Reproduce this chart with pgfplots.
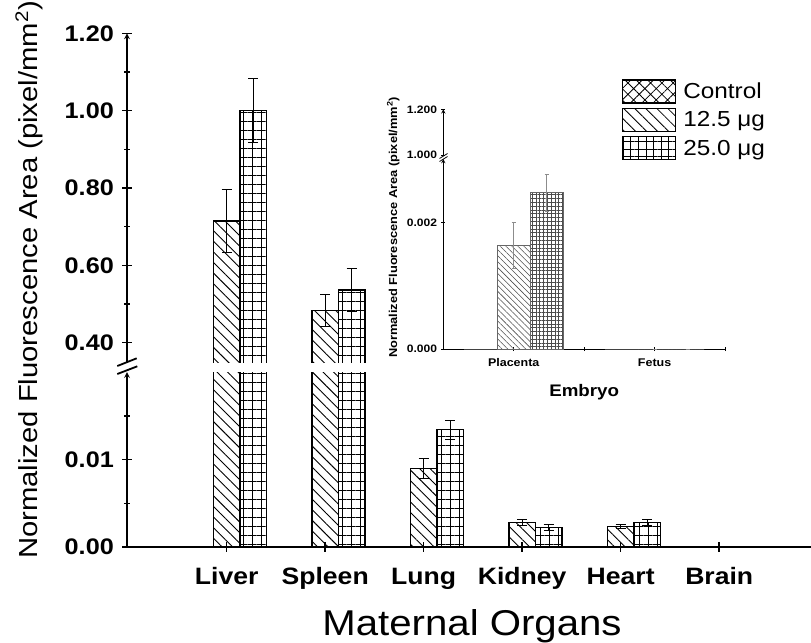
\documentclass[border=0pt]{standalone}
\usepackage{fontspec}
\setmainfont{Liberation Sans}
\newfontfamily\wide[FakeStretch=1.12]{Liberation Sans}
\usepackage{pgfplots}
\pgfplotsset{compat=1.18}
\usepackage{pgfplotstable}
\usetikzlibrary{patterns.meta}

% x, 12.5 ug (value, error), 25.0 ug (value, error), control
\pgfplotstableread{
x v1 e1 v2 e2 c
0 0.714 0.081 1.000 0.083 0
1 0.483 0.041 0.536 0.055 0
2 0.00897 0.0011 0.01342 0.0011 0
3 0.00281 0.0003 0.00225 0.00037 0
4 0.00236 0.0002 0.00281 0.00035 0
5 0 0 0 0 0
}\maintab
\pgfplotstableread{
x v1 e1 v2 e2 c
2 0.00897 0.0011 0.01342 0.0011 0
3 0.00281 0.0003 0.00225 0.00037 0
4 0.00236 0.0002 0.00281 0.00035 0
5 0 0 0 0 0
}\lowtab
\pgfplotstableread{
x v1 e1 v2 e2 c
0 0.00164 0.00036 0.00247 0.00029 0
1 0 0 0 0 0
}\insettab

\pgfplotsset{
  mainax/.style={scale only axis, width=684bp, xmin=-1.012, xmax=5.932,
    scaled y ticks=false, scaled x ticks=false,
    axis line style={-, line width=1.6bp},
    every outer x axis line/.append style={-}, every outer y axis line/.append style={-},
    tick style={line width=1.5bp, black},
    tick align=inside, major tick length=10bp, minor tick length=6bp,
    yticklabel style={font=\wide\bfseries\fontsize{22.6}{22.6}\selectfont, inner sep=0pt, xshift=-8bp, anchor=east}},
  pat125/.style={pattern={Lines[angle=-45,distance=7.5bp,line width=0.9bp]}},
  pat250/.style={pattern={Hatch[angle=0,distance=9bp,line width=0.9bp]}},
  obar/.style={forget plot, draw=black, line width=1.5bp},
  bar125/.style={forget plot, ybar, bar width=26.5bp, bar shift=0bp, draw=black, line width=1.5bp, pat125,
    error bars/y dir=both, error bars/y explicit,
    error bars/error bar style={draw=black, line width=0.9bp},
    error bars/error mark options={draw=black, rotate=90, mark size=5bp, line width=0.9bp}},
  bar250/.style={forget plot, ybar, bar width=26.5bp, bar shift=0bp, draw=black, line width=1.5bp, pat250,
    error bars/y dir=both, error bars/y explicit,
    error bars/error bar style={draw=black, line width=0.9bp},
    error bars/error mark options={draw=black, rotate=90, mark size=5bp, line width=0.9bp}},
  errb/.style={forget plot, draw=none, mark=none,
    error bars/y dir=both, error bars/y explicit,
    error bars/error bar style={draw=black, line width=0.9bp},
    error bars/error mark options={draw=black, rotate=90, mark size=5bp, line width=0.9bp}},
  insax/.style={scale only axis, width=281.7bp, xmin=-0.5, xmax=1.5,
    scaled y ticks=false,
    axis line style={-, line width=0.9bp},
    every outer x axis line/.append style={-}, every outer y axis line/.append style={-},
    tick style={line width=0.8bp, black},
    tick align=inside, major tick length=4bp,
    yticklabel style={font=\wide\bfseries\fontsize{10.8}{10.8}\selectfont, inner sep=0pt, xshift=-4bp, anchor=east}},
  ibar125/.style={forget plot, ybar, bar width=33bp, bar shift=0bp, draw=black!60, line width=0.7bp,
    pattern={Lines[angle=-45,distance=4.2bp,line width=0.55bp]}, pattern color=black!70,
    error bars/y dir=both, error bars/y explicit,
    error bars/error bar style={draw=black!45, line width=0.7bp},
    error bars/error mark options={draw=black!45, rotate=90, mark size=2bp, line width=0.7bp}},
  ibar250/.style={forget plot, ybar, bar width=33bp, bar shift=0bp, draw=black!60, line width=0.7bp,
    pattern={Hatch[angle=0,distance=3.8bp,line width=0.55bp]}, pattern color=black!70,
    error bars/y dir=both, error bars/y explicit,
    error bars/error bar style={draw=black!45, line width=0.7bp},
    error bars/error mark options={draw=black!45, rotate=90, mark size=2bp, line width=0.7bp}},
}

\begin{document}
\begin{tikzpicture}
\useasboundingbox (0,0) rectangle (811bp,-643bp);

% ---------- main, lower segment ----------
\begin{axis}[mainax, at={(127bp,-547bp)}, anchor=south west, height=175bp,
  ymin=0, ymax=0.02,
  axis x line=bottom, axis y line=left, x axis line style={-, line width=2bp},
  xtick={0,1,2,3,4,5}, xticklabels={Liver,Spleen,Lung,Kidney,Heart,Brain},
  xticklabel style={font=\wide\bfseries\fontsize{23.8}{23.8}\selectfont, anchor=base, inner sep=0pt, yshift=-33bp},
  ytick={0,0.01}, yticklabels={0.00,0.01}, minor ytick={0.005,0.015},
  xlabel={Maternal Organs},
  xlabel style={font=\wide\fontsize{36}{36}\selectfont, at={(rel axis cs:0.5,0)}, anchor=base, inner sep=0pt, yshift=-88bp, xshift=3bp},
  legend style={at={(0.7232,2.6726)}, anchor=north west, draw=none, fill=none, inner sep=0pt,
    row sep=4.6bp, column sep=7.4bp, font=\wide\fontsize{21.8}{21.8}\selectfont,
    nodes={inner sep=0pt}, cells={anchor=west}},
]
\addlegendimage{legend image code/.code={\draw[line width=1.3bp, pattern={Hatch[angle=45,distance=8bp,line width=0.8bp]}] (0bp,-11.5bp) rectangle (53.3bp,11.5bp);}}
\addlegendentry{Control}
\addlegendimage{legend image code/.code={\draw[line width=1.3bp, pattern={Lines[angle=-45,distance=7.8bp,line width=0.8bp]}] (0bp,-11.5bp) rectangle (53.3bp,11.5bp);}}
\addlegendentry{12.5 μg}
\addlegendimage{legend image code/.code={\draw[line width=1.3bp, pattern={Hatch[angle=0,distance=7.6bp,line width=0.8bp]}] (0bp,-11.5bp) rectangle (53.3bp,11.5bp);}}
\addlegendentry{25.0 μg}
% control (all zero)
\addplot[forget plot, ybar, bar width=26.5bp, bar shift=0bp, draw=black, line width=1.5bp,
  pattern={Hatch[angle=45,distance=8bp,line width=0.9bp]}] table[x expr=\thisrow{x}-0.269,y=c]{\maintab};
% Liver and Spleen (tall bars, cut by the break)
\addplot[obar, pat125] coordinates {(-0.1345,0) (-0.1345,0.714) (0.1345,0.714) (0.1345,0)};
\addplot[obar, pat250] coordinates {(0.1345,0) (0.1345,1.000) (0.4035,1.000) (0.4035,0)};
\addplot[obar, pat125] coordinates {(0.8655,0) (0.8655,0.483) (1.1345,0.483) (1.1345,0)};
\addplot[obar, pat250] coordinates {(1.1345,0) (1.1345,0.536) (1.4035,0.536) (1.4035,0)};
% Lung .. Brain
\addplot[bar125] table[x=x,y=v1,y error=e1]{\lowtab};
\addplot[bar250] table[x expr=\thisrow{x}+0.269,y=v2,y error=e2]{\lowtab};
\end{axis}

% ---------- main, upper segment ----------
\begin{axis}[mainax, at={(127bp,-362bp)}, anchor=south west, height=328.7bp,
  ymin=0.35, ymax=1.2, hide x axis, axis y line=left,
  ytick={0.4,0.6,0.8,1.0,1.2}, yticklabels={0.40,0.60,0.80,1.00,1.20},
  minor ytick={0.5,0.7,0.9,1.1}]
\addplot[obar, pat125] coordinates {(-0.1345,0.2) (-0.1345,0.714) (0.1345,0.714) (0.1345,0.2)};
\addplot[obar, pat250] coordinates {(0.1345,0.2) (0.1345,1.000) (0.4035,1.000) (0.4035,0.2)};
\addplot[obar, pat125] coordinates {(0.8655,0.2) (0.8655,0.483) (1.1345,0.483) (1.1345,0.2)};
\addplot[obar, pat250] coordinates {(1.1345,0.2) (1.1345,0.536) (1.4035,0.536) (1.4035,0.2)};
\addplot[errb] coordinates {(0,0.714) +- (0,0.081) (1,0.483) +- (0,0.041)};
\addplot[errb] coordinates {(0.269,1.000) +- (0,0.083) (1.269,0.536) +- (0,0.055)};
\end{axis}

% break marks main axis
\draw[line width=1.8bp] (117.3bp,-366bp) -- (136.7bp,-358.3bp);
\draw[line width=1.8bp] (117.3bp,-374bp) -- (137.3bp,-366.3bp);

\node[rotate=90, anchor=base, font=\wide\fontsize{26.2}{26.2}\selectfont, inner sep=0pt] at (37bp,-280bp)
  {Normalized Fluorescence Area (pixel/mm\textsuperscript{2})};

% ---------- inset, lower segment ----------
\begin{axis}[insax, at={(443.3bp,-349bp)}, anchor=south west, height=190bp,
  ymin=0, ymax=0.003,
  axis x line=bottom, axis y line=left, x axis line style={-},
  xtick={0,1}, xticklabels={Placenta,Fetus}, extra x ticks={0.5,1.5}, extra x tick labels={},
  xticklabel style={font=\wide\bfseries\fontsize{11.2}{11.2}\selectfont, anchor=base, inner sep=0pt, yshift=-15.3bp},
  ytick={0,0.002}, yticklabels={0.000,0.002},
  xlabel={Embryo},
  xlabel style={font=\wide\bfseries\fontsize{16.8}{16.8}\selectfont, at={(rel axis cs:0.5,0)}, anchor=base, inner sep=0pt, yshift=-47.7bp},
]
\addplot[forget plot, ybar, bar width=33bp, bar shift=0bp, draw=black!60, line width=0.7bp,
  pattern={Hatch[angle=45,distance=3.8bp,line width=0.5bp]}] table[x expr=\thisrow{x}-0.2343,y=c]{\insettab};
\addplot[ibar125] table[x=x,y=v1,y error=e1]{\insettab};
\addplot[ibar250] table[x expr=\thisrow{x}+0.2343,y=v2,y error=e2]{\insettab};
\end{axis}

% ---------- inset, upper segment ----------
\begin{axis}[insax, at={(443.3bp,-155bp)}, anchor=south west, height=45.7bp,
  ymin=1.0, ymax=1.2, hide x axis, axis y line=left,
  ytick={1.0,1.2}, yticklabels={1.000,1.200}]
\addplot[draw=none, forget plot] coordinates {(0,1.1)};
\end{axis}

\draw[line width=0.8bp] (439.5bp,-158.5bp) -- (447.5bp,-153.5bp);
\draw[line width=0.8bp] (439.5bp,-161.5bp) -- (447.5bp,-156.5bp);

\node[rotate=90, anchor=base, font=\wide\bfseries\fontsize{11.5}{11.5}\selectfont, inner sep=0pt] at (397bp,-227.5bp)
  {Normalized Fluorescence Area (pixel/mm\textsuperscript{2})};
\end{tikzpicture}
\end{document}
